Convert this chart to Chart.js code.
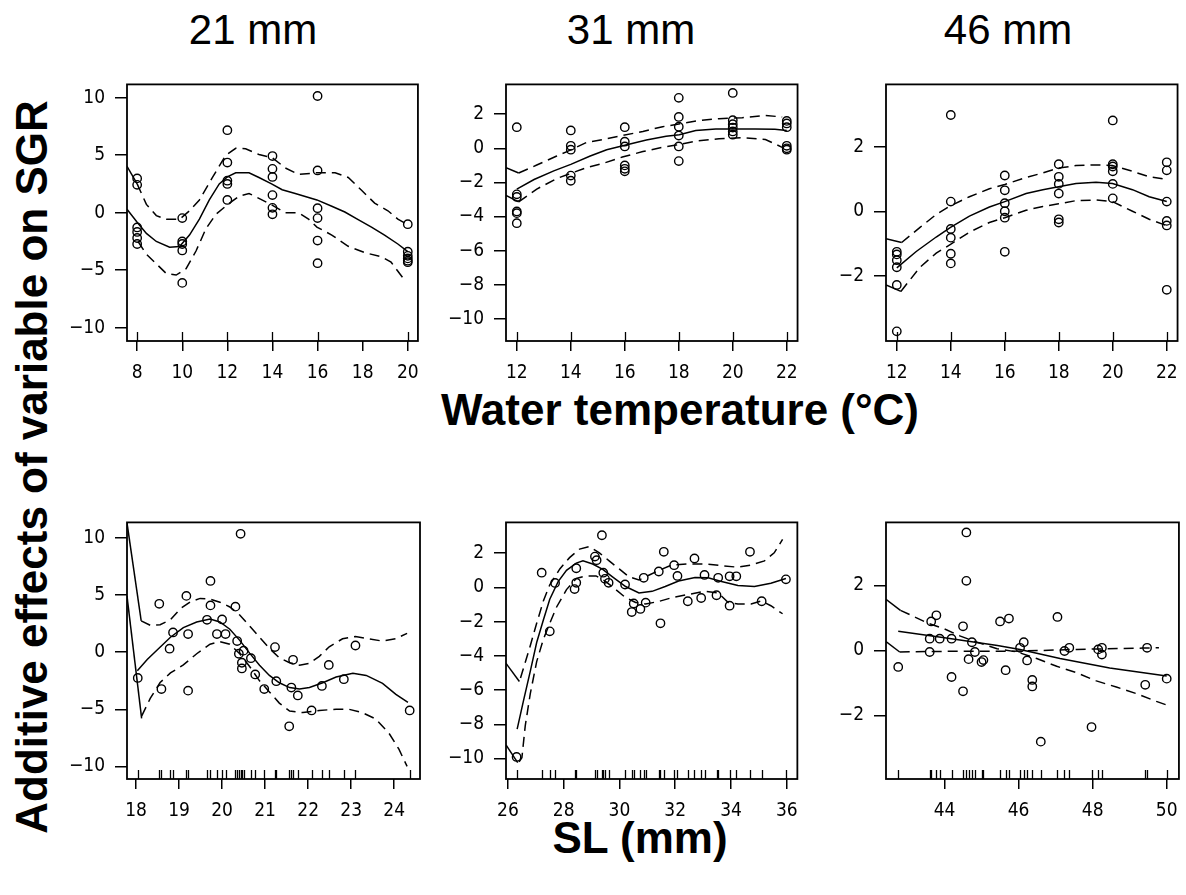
<!DOCTYPE html>
<html>
<head>
<meta charset="utf-8">
<script src="https://cdn.jsdelivr.net/npm/chart.js@4.4.1/dist/chart.umd.min.js"></script>
<style>
  body { margin: 0; background: #fff; width: 1186px; height: 895px; position: relative; overflow: hidden;
         font-family: "Liberation Sans", Arial, sans-serif; }
  canvas { position: absolute; }
  .lab { position: absolute; transform: translate(-50%, -50%); white-space: nowrap; color: #000; }
  .title { font-size: 42px; }
  .axis { font-size: 44px; font-weight: bold; }
</style>
</head>
<body>
<div class="lab title" style="left:253px; top:30px;">21 mm</div>
<div class="lab title" style="left:631px; top:30px;">31 mm</div>
<div class="lab title" style="left:1008px; top:30px;">46 mm</div>
<div class="lab axis" style="left:680px; top:410px;">Water temperature (°C)</div>
<div class="lab axis" style="left:640px; top:838px;">SL (mm)</div>
<div class="lab axis" style="left:32px; top:467px; transform: translate(-50%, -50%) rotate(-90deg);">Additive effects of variable on SGR</div>
<script>
// ---- tick labels ----
const xTicks21T = [8, 10, 12, 14, 16, 18, 20];
const xTicksTemp = [12, 14, 16, 18, 20, 22];
const xTicks21S = [18, 19, 20, 21, 22, 23, 24];
const xTicks31S = [26, 28, 30, 32, 34, 36];
const xTicks46S = [44, 46, 48, 50];
const yTicks21 = [-10, -5, 0, 5, 10];
const yTicks31 = [-10, -8, -6, -4, -2, 0, 2];
const yTicks46 = [-2, 0, 2];

// ---- 21 mm, water temperature ----
const pts21T = [
  [8, 2.98], [8, 2.42], [8, -1.28], [8, -1.67], [8, -2.2], [8, -2.72],
  [10, -0.47], [10, -2.5], [10, -2.72], [10, -3.28], [10, -6.1],
  [12, 7.17], [12, 4.36], [12, 2.78], [12, 2.5], [12, 1.11],
  [14, 4.92], [14, 3.81], [14, 3.11], [14, 1.53], [14, 0.42], [14, -0.14],
  [16, 10.14], [16, 3.67], [16, 0.39], [16, -0.47], [16, -2.42], [16, -4.39],
  [20, -1.0], [20, -3.39], [20, -3.75], [20, -3.97], [20, -4.17], [20, -4.3]
];
const fit21T = [[7.55, 0.3], [8, -0.83], [8.41, -1.8], [8.85, -2.5], [9.44, -3.0], [9.88, -2.94], [10.32, -1.94],
  [10.76, -0.55], [11.2, 1.11], [11.64, 2.5], [12, 3.11], [12.37, 3.47], [12.96, 3.47], [13.4, 3.06], [13.96, 2.5],
  [14.43, 2.0], [15.01, 1.67], [15.97, 1.11], [16.63, 0.56], [17.21, 0.06], [17.8, -0.61], [18.39, -1.25],
  [18.97, -1.94], [19.56, -2.72], [20, -3.39]];
const up21T = [[8, 2.5], [8.41, 0.72], [8.85, -0.25], [9.29, -0.58], [9.88, -0.58], [10.32, 0.17], [10.76, 1.11],
  [11.34, 3.06], [11.93, 5.0], [12.37, 5.6], [12.81, 5.56], [13.4, 5.06], [13.99, 4.78], [14.57, 3.89], [15.16, 3.33],
  [15.97, 3.47], [16.78, 3.47], [17.36, 3.06], [17.95, 1.95], [18.53, 0.83], [19.12, 0.17], [19.56, -0.55], [19.93, -0.97]];
const lo21T = [[8.04, -2.5], [8.41, -3.61], [8.85, -4.44], [9.29, -5.28], [9.73, -5.42], [10.17, -4.86], [10.61, -3.33],
  [11.05, -1.39], [11.49, -0.14], [12, 0.69], [12.52, 1.44], [12.96, 1.67], [13.4, 1.25], [13.96, 0.69], [14.57, 0],
  [15.16, 0], [15.6, -0.55], [15.97, -1.25], [16.63, -1.94], [17.36, -2.92], [18.09, -3.47], [18.83, -3.83],
  [19.26, -4.3], [19.85, -5.83]];
const edge21T = [[[7.55, 4.03], [8, 2.5]]];

// ---- 31 mm, water temperature ----
const pts31T = [
  [12, 1.24], [12, -2.7], [12, -2.85], [12, -3.7], [12, -3.8], [12, -4.39],
  [14, 1.05], [14, 0.15], [14, -0.08], [14, -1.6], [14, -1.9],
  [16, 1.24], [16, 0.39], [16, 0.11], [16, -1.0], [16, -1.2], [16, -1.35],
  [18, 2.96], [18, 1.84], [18, 1.27], [18, 0.75], [18, 0.11], [18, -0.75],
  [20, 3.25], [20, 1.65], [20, 1.42], [20, 1.22], [20, 0.99], [20, 0.8],
  [22, 1.61], [22, 1.46], [22, 1.24], [22, 0.15], [22, 0.0], [22, -0.08]
];
const fit31T = [[12, -2.39], [12.64, -1.83], [13.37, -1.32], [14, -0.94], [14.72, -0.45], [15.33, -0.08], [16.04, 0.19],
  [16.8, 0.49], [17.53, 0.71], [18.02, 0.8], [18.63, 1.05], [19.37, 1.14], [20, 1.14], [20.83, 1.14], [21.56, 1.12], [22, 1.05]];
const up31T = [[12.07, -1.45], [12.74, -0.98], [13.48, -0.45], [13.86, -0.19], [14.58, 0.34], [15.2, 0.52], [15.91, 0.75],
  [16.67, 0.99], [17.4, 1.27], [17.9, 1.4], [18.64, 1.61], [19.49, 1.74], [20.35, 1.8], [21.21, 1.93], [21.83, 1.84]];
const lo31T = [[12.07, -3.14], [12.74, -2.39], [13.48, -1.77], [13.86, -1.55], [14.58, -1.13], [15.2, -0.88], [15.91, -0.51],
  [16.67, -0.19], [17.4, 0.06], [17.9, 0.19], [18.64, 0.43], [19.49, 0.56], [20.35, 0.62], [21.21, 0.52], [21.83, 0.06]];
const edge31T = [[[11.6, -1.13], [12.07, -1.45]], [[11.6, -2.76], [12.07, -3.14]]];

// ---- 46 mm, water temperature ----
const pts46T = [
  [12, -1.26], [12, -1.34], [12, -1.52], [12, -1.74], [12, -2.29], [12, -3.73],
  [14, 2.99], [14, 0.3], [14, -0.55], [14, -0.82], [14, -1.32], [14, -1.62],
  [16, 1.11], [16, 0.65], [16, 0.25], [16, 0.0], [16, -0.2], [16, -1.26],
  [18, 1.46], [18, 1.07], [18, 0.85], [18, 0.55], [18, -0.25], [18, -0.35],
  [20, 2.82], [20, 1.46], [20, 1.39], [20, 1.24], [20, 0.85], [20, 0.4],
  [22, 1.52], [22, 1.27], [22, 0.3], [22, -0.3], [22, -0.44], [22, -2.44]
];
const fit46T = [[12, -1.76], [12.72, -1.25], [13.46, -0.8], [13.99, -0.5], [14.69, -0.15], [15.43, 0.13], [16, 0.3],
  [16.79, 0.55], [17.41, 0.67], [17.99, 0.76], [18.64, 0.86], [19.38, 0.9], [19.99, 0.86], [20.73, 0.67], [21.35, 0.45], [22, 0.3]];
const up46T = [[12.18, -0.97], [12.86, -0.5], [13.46, -0.1], [13.99, 0.17], [14.69, 0.45], [15.43, 0.7], [16, 0.83],
  [16.79, 1.05], [17.41, 1.19], [17.99, 1.34], [18.64, 1.42], [19.38, 1.44], [19.99, 1.42], [20.73, 1.24], [21.35, 1.07], [21.94, 1.0]];
const lo46T = [[12.15, -2.49], [12.86, -1.74], [13.46, -1.3], [13.99, -1.03], [14.69, -0.65], [15.43, -0.35], [16, -0.2],
  [16.79, 0.03], [17.41, 0.15], [17.99, 0.23], [18.64, 0.33], [19.38, 0.35], [19.99, 0.3], [20.73, 0.0], [21.35, -0.25], [21.94, -0.43]];
const edge46T = [[[11.6, -0.85], [12.18, -0.97]], [[11.6, -2.29], [12.15, -2.49]]];

// ---- 21 mm, SL ----
const pts21S = [
  [18.04, -2.26], [18.54, 4.23], [18.59, -3.23], [18.78, 0.3], [18.86, 1.72], [19.17, 4.92], [19.21, 1.58], [19.21, -3.37],
  [19.65, 2.83], [19.73, 6.23], [19.73, 4.09], [19.88, 1.58], [20.0, 2.86], [20.08, 1.58], [20.31, 3.98], [20.35, 0.97],
  [20.39, -0.14], [20.43, 10.35], [20.46, -0.93], [20.46, -1.43], [20.5, 0.13], [20.67, -0.53], [20.77, -1.95], [20.98, -3.23],
  [21.23, 0.44], [21.26, -2.54], [21.56, -6.49], [21.61, -3.1], [21.65, -0.67], [21.76, -3.79], [22.08, -5.1], [22.32, -2.96],
  [22.48, -1.12], [22.83, -2.37], [23.1, 0.58], [24.36, -5.1]
];
const fit21S = [[18.03, -1.62], [18.26, -0.65], [18.49, 0.19], [18.8, 1.3], [19.1, 2.14], [19.41, 2.64], [19.72, 2.9],
  [19.95, 2.64], [20.18, 2.0], [20.41, 1.03], [20.64, -0.09], [20.87, -1.15], [21.1, -2.04], [21.33, -2.68], [21.57, -3.1],
  [21.8, -3.23], [22.03, -3.1], [22.34, -2.68], [22.65, -2.18], [23.04, -1.84], [23.35, -2.04], [23.73, -2.73], [24.04, -3.7], [24.32, -4.4]];
const up21S = [[18.12, 2.74], [18.33, 2.35], [18.56, 2.4], [18.8, 2.83], [19.03, 3.8], [19.26, 4.4], [19.49, 4.7], [19.72, 4.64],
  [19.95, 4.37], [20.18, 3.95], [20.41, 3.25], [20.64, 2.28], [20.87, 1.3], [21.1, 0.33], [21.33, -0.5], [21.57, -0.93],
  [21.8, -1.15], [22.03, -0.98], [22.26, -0.37], [22.49, 0.47], [22.8, 1.17], [23.1, 1.36], [23.41, 1.17], [23.72, 0.97],
  [24.03, 1.17], [24.3, 1.64]];
const lo21S = [[18.13, -5.6], [18.33, -4.05], [18.56, -2.66], [18.8, -1.82], [19.1, -1.12], [19.41, -0.14], [19.72, 0.69],
  [19.95, 0.92], [20.18, 0.69], [20.41, -0.14], [20.64, -1.26], [20.87, -2.51], [21.1, -3.48], [21.33, -4.46], [21.57, -5.15],
  [21.88, -5.29], [22.26, -5.1], [22.65, -5.0], [22.95, -5.0], [23.26, -5.29], [23.57, -5.85], [23.88, -7.1], [24.11, -8.49], [24.3, -10.0]];
const edge21S = [[[17.79, 11.3], [18.12, 2.74]], [[17.79, 4.9], [18.13, -5.8]]];

// ---- 31 mm, SL ----
const pts31S = [
  [26.31, -9.91], [27.21, 0.86], [27.5, -2.57], [27.69, 0.26], [28.39, -0.1], [28.45, 1.12], [28.45, 0.27], [29.12, 1.8],
  [29.18, 1.59], [29.37, 3.05], [29.42, 0.86], [29.48, 0.5], [29.61, 0.27], [30.2, 0.17], [30.44, -1.44], [30.51, -0.94],
  [30.75, -1.26], [30.87, 0.56], [30.94, -0.89], [31.41, 0.93], [31.47, -2.1], [31.59, 2.08], [31.96, 1.3], [32.08, 0.67],
  [32.45, -0.81], [32.69, 1.69], [32.93, -0.62], [33.05, 0.73], [33.48, -0.46], [33.54, 0.56], [33.95, -1.07], [33.95, 0.65],
  [34.19, 0.65], [34.68, 2.08], [35.1, -0.81], [35.97, 0.47]
];
const fit31S = [[26.33, -8.28], [26.56, -6.6], [26.8, -4.91], [27.03, -3.22], [27.27, -1.91], [27.5, -0.69], [27.8, 0.34],
  [28.1, 1.0], [28.45, 1.42], [28.69, 1.55], [29.04, 1.37], [29.4, 1.05], [29.75, 0.62], [30.22, 0.05], [30.7, -0.32],
  [31.17, -0.23], [31.64, 0.05], [32.12, 0.37], [32.71, 0.58], [33.18, 0.56], [33.66, 0.34], [34.25, 0.11], [34.84, 0.05],
  [35.43, 0.24], [35.97, 0.52]];
const up31S = [[26.45, -5.3], [26.8, -3.41], [27.03, -2.1], [27.27, -0.79], [27.5, 0.15], [27.86, 1.08], [28.21, 1.74],
  [28.57, 2.24], [28.92, 2.39], [29.28, 2.02], [29.63, 1.55], [29.99, 1.08], [30.34, 0.62], [30.7, 0.43], [31.05, 0.71],
  [31.41, 0.99], [31.88, 1.31], [32.47, 1.37], [33.07, 1.37], [33.66, 1.27], [34.25, 1.18], [34.72, 1.31], [35.2, 1.55],
  [35.55, 2.02], [35.85, 2.81]];
const lo31S = [[26.4, -10.2], [26.5, -9.96], [26.62, -8.09], [26.8, -6.22], [27.03, -4.34], [27.27, -3.03], [27.5, -2.1],
  [27.74, -1.16], [28.1, -0.13], [28.45, 0.52], [28.8, 0.67], [29.16, 0.67], [29.51, 0.34], [29.87, -0.13], [30.22, -0.6],
  [30.58, -0.88], [30.94, -0.97], [31.41, -0.82], [31.88, -0.6], [32.47, -0.41], [33.07, -0.22], [33.54, -0.32], [33.9, -0.88],
  [34.25, -0.97], [34.72, -0.97], [35.08, -0.79], [35.43, -1.07], [35.85, -1.54]];
const edge31S = [[[25.93, -4.44], [26.41, -5.5]], [[25.93, -9.21], [26.35, -10.24]]];

// ---- 46 mm, SL ----
const pts46S = [
  [42.75, -0.51], [43.6, 0.36], [43.6, -0.05], [43.64, 0.89], [43.78, 1.08], [43.87, 0.36], [44.19, 0.36], [44.19, -0.82],
  [44.5, 0.74], [44.5, -1.26], [44.59, 3.63], [44.59, 2.14], [44.65, -0.27], [44.74, 0.25], [44.82, -0.05], [45.0, -0.36],
  [45.05, -0.3], [45.5, 0.89], [45.65, -0.61], [45.74, 0.98], [46.04, 0.08], [46.14, 0.25], [46.23, -0.31], [46.37, -0.91],
  [46.37, -1.11], [46.6, -2.81], [47.05, 1.03], [47.24, -0.02], [47.37, 0.08], [47.97, -2.36], [48.15, 0.03], [48.25, 0.08],
  [48.25, -0.13], [49.42, -1.06], [49.47, 0.08], [50.0, -0.87]
];
const fit46S = [[42.75, 0.59], [44.0, 0.39], [45.43, 0.15], [46.04, 0.03], [47.12, -0.25], [48.46, -0.54], [50.0, -0.79]];
const up46S = [[42.81, 1.23], [43.1, 1.08], [43.55, 0.84], [44.0, 0.66], [44.43, 0.44], [44.88, 0.25], [45.42, 0.05],
  [45.96, -0.05], [46.49, -0.25], [47.03, -0.49], [47.57, -0.69], [48.1, -0.94], [48.64, -1.13], [49.18, -1.33],
  [49.72, -1.57], [49.97, -1.67]];
const lo46S = [[42.79, -0.05], [44.0, -0.03], [45.79, -0.03], [47.57, 0.03], [49.36, 0.07], [49.79, 0.08]];
const edge46S = [[[42.42, 1.57], [42.81, 1.23]], [[42.42, 0.27], [42.79, -0.05]]];

// ---- layout ----
const BOX_W = 293, BOX_H = 268;
const panels = [
  { left: 127, top: 73,  x: [7.55, 20.45],  y: [-11.15, 11.15], xt: xTicks21T,  yt: yTicks21, pts: pts21T, fit: fit21T, up: up21T, lo: lo21T, edge: edge21T },
  { left: 506, top: 73,  x: [11.6, 22.4],   y: [-11.3, 3.75],   xt: xTicksTemp, yt: yTicks31, pts: pts31T, fit: fit31T, up: up31T, lo: lo31T, edge: edge31T },
  { left: 886, top: 73,  x: [11.6, 22.4],   y: [-4.03, 3.94],   xt: xTicksTemp, yt: yTicks46, pts: pts46T, fit: fit46T, up: up46T, lo: lo46T, edge: edge46T },
  { left: 127, top: 511, x: [17.79, 24.6],  y: [-11.1, 11.35],  xt: xTicks21S,  yt: yTicks21, pts: pts21S, fit: fit21S, up: up21S, lo: lo21S, edge: edge21S },
  { left: 506, top: 511, x: [25.93, 36.38], y: [-11.2, 3.8],    xt: xTicks31S,  yt: yTicks31, pts: pts31S, fit: fit31S, up: up31S, lo: lo31S, edge: edge31S },
  { left: 886, top: 511, x: [42.42, 50.33], y: [-3.96, 3.94],   xt: xTicks46S,  yt: yTicks46, pts: pts46S, fit: fit46S, up: up46S, lo: lo46S, edge: edge46S },
];

const tickFont = { family: '"Liberation Sans Narrow", "DejaVu Sans Condensed", "Liberation Sans", sans-serif', size: 19 };
const asXY = (arr) => arr.map((d) => ({ x: d[0], y: d[1] }));
const minus = (v) => String(v).replace("-", "\u2212");

// box round the plot region + rug of x values
const boxRug = {
  id: "boxRug",
  afterDatasetsDraw(chart, args, opts) {
    const { ctx, chartArea: a } = chart;
    const xs = chart.scales.x;
    ctx.save();
    ctx.strokeStyle = "#000";
    ctx.lineWidth = 1.3;
    ctx.beginPath();
    opts.values.forEach((v) => {
      const px = Math.round(xs.getPixelForValue(v)) + 0.5;
      ctx.moveTo(px, a.bottom);
      ctx.lineTo(px, a.bottom - 9);
    });
    ctx.stroke();
    ctx.lineWidth = 1.8;
    ctx.strokeRect(a.left, a.top, a.right - a.left, a.bottom - a.top);
    ctx.restore();
  },
};

function lineSet(arr, dashed) {
  return {
    data: asXY(arr),
    showLine: true,
    pointRadius: 0,
    borderColor: "#000",
    borderWidth: 1.5,
    borderDash: dashed ? [10, 6] : [],
    fill: false,
  };
}

panels.forEach((p) => {
  const c = document.createElement("canvas");
  c.width = BOX_W + 80;
  c.height = BOX_H + 60;
  c.style.left = p.left - 70 + "px";
  c.style.top = p.top - 10 + "px";
  document.body.appendChild(c);

  const datasets = [
    {
      data: asXY(p.pts),
      showLine: false,
      pointRadius: 4.2,
      pointBorderWidth: 1.4,
      borderColor: "#000",
      backgroundColor: "rgba(0,0,0,0)",
    },
    lineSet(p.fit, false),
    lineSet(p.up, true),
    lineSet(p.lo, true),
  ];
  p.edge.forEach((seg) => datasets.push(lineSet(seg, false)));

  new Chart(c, {
    type: "scatter",
    data: { datasets },
    options: {
      responsive: false,
      animation: false,
      devicePixelRatio: 1,
      layout: { padding: { top: 10, right: 10, left: 0, bottom: 0 } },
      plugins: {
        legend: { display: false },
        tooltip: { enabled: false },
        boxRug: { values: p.pts.map((d) => d[0]) },
      },
      scales: {
        x: {
          type: "linear",
          min: p.x[0],
          max: p.x[1],
          afterBuildTicks: (s) => { s.ticks = p.xt.map((v) => ({ value: v })); },
          afterFit: (s) => { s.height = 50; },
          grid: { drawOnChartArea: false, drawTicks: true, tickLength: 10, color: "#000", lineWidth: 1.5 },
          border: { display: false },
          ticks: { font: tickFont, color: "#000", padding: 11, maxRotation: 0, autoSkip: false, callback: minus },
        },
        y: {
          type: "linear",
          min: p.y[0],
          max: p.y[1],
          afterBuildTicks: (s) => { s.ticks = p.yt.map((v) => ({ value: v })); },
          afterFit: (s) => { s.width = 70; },
          grid: { drawOnChartArea: false, drawTicks: true, tickLength: 12, color: "#000", lineWidth: 1.5 },
          border: { display: false },
          ticks: { font: tickFont, color: "#000", padding: 10, autoSkip: false, callback: minus },
        },
      },
    },
    plugins: [boxRug],
  });
});
</script>
</body>
</html>
